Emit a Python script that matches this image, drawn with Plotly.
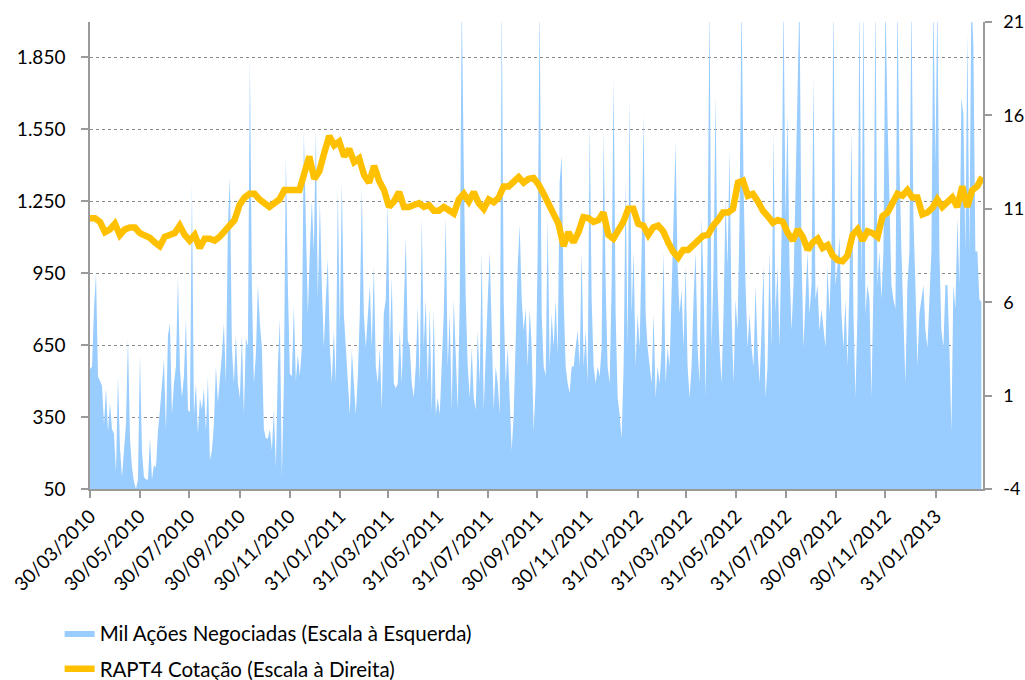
import pandas as pd
import plotly.graph_objects as go

# ---- data ----
volume_start = "2010-03-30"
volume_end = "2013-03-28"
volume = [
    550, 560, 800, 950, 520, 500, 480, 320, 470, 290, 410, 300, 280, 120, 520, 220, 100, 210, 320, 680,
    260, 140, 80, 50, 90, 610, 210, 100, 90, 90, 265, 90, 150, 140, 290, 380, 490, 590, 290, 690,
    740, 360, 490, 560, 935, 550, 430, 520, 760, 380, 370, 1320, 360, 490, 280, 430, 380, 470, 290, 520,
    170, 210, 320, 560, 410, 500, 610, 740, 490, 1150, 1350, 640, 490, 690, 490, 430, 690, 360, 680, 640,
    1840, 900, 490, 610, 900, 740, 640, 300, 260, 260, 300, 210, 380, 140, 560, 760, 100, 490, 1440, 900,
    530, 520, 810, 500, 610, 520, 640, 1540, 1130, 780, 1040, 1250, 1040, 1540, 840, 1250, 900, 640, 840, 1010,
    640, 490, 710, 490, 1300, 710, 1330, 780, 640, 520, 360, 630, 490, 360, 520, 780, 1300, 780, 640, 750,
    900, 640, 980, 560, 490, 640, 380, 780, 840, 1250, 640, 930, 490, 470, 490, 710, 490, 800, 1100, 670,
    640, 490, 430, 560, 810, 490, 1180, 640, 840, 490, 800, 370, 800, 360, 430, 360, 560, 780, 1180, 560,
    780, 380, 840, 560, 380, 840, 2100, 1400, 840, 560, 430, 640, 430, 380, 710, 490, 1040, 380, 640, 840,
    1040, 640, 380, 560, 490, 360, 2100, 830, 490, 640, 430, 210, 360, 640, 980, 1150, 840, 710, 800, 560,
    800, 640, 290, 490, 1040, 2100, 780, 560, 520, 1180, 560, 780, 640, 840, 610, 1330, 1440, 840, 560, 490,
    450, 560, 560, 640, 710, 560, 1040, 560, 710, 490, 1575, 840, 560, 490, 560, 520, 640, 1540, 900, 560,
    490, 900, 1770, 780, 430, 360, 260, 560, 1330, 640, 1680, 780, 1040, 560, 780, 640, 1040, 1610, 780, 640,
    560, 490, 780, 430, 560, 490, 640, 1040, 490, 640, 560, 840, 1180, 1490, 980, 780, 880, 640, 980, 560,
    430, 560, 840, 1040, 640, 490, 1180, 900, 430, 1040, 2100, 640, 980, 1690, 900, 640, 490, 780, 1260, 980,
    1460, 780, 490, 840, 710, 1180, 2100, 1330, 900, 640, 780, 640, 560, 900, 640, 490, 710, 980, 430, 560,
    1040, 640, 1540, 780, 980, 640, 1100, 2100, 1180, 1610, 980, 710, 900, 1260, 1720, 2100, 1040, 640, 840, 1040,
    780, 900, 1770, 840, 900, 710, 800, 710, 640, 980, 780, 1040, 2100, 900, 980, 1100, 780, 640, 840, 560,
    900, 1540, 780, 430, 780, 2100, 900, 2100, 780, 900, 840, 430, 900, 2100, 900, 1040, 840, 1040, 2100, 1610,
    1180, 900, 840, 800, 2100, 1400, 1040, 780, 490, 900, 1040, 2100, 1180, 900, 560, 780, 840, 900, 710, 640,
    840, 1040, 2100, 1400, 2100, 1040, 710, 640, 900, 900, 640, 290, 900, 800, 1180, 900, 1680, 1610, 1040, 1950,
    1040, 2100, 1900, 1040, 1040, 840, 830,
]

price_start = "2010-03-30"
price_end = "2013-03-29"
price = [
    10.5, 10.5, 10.3, 9.75, 9.9, 10.2, 9.6, 9.9, 10.0, 10.0, 9.7, 9.6, 9.45, 9.2, 9.0, 9.5, 9.6, 9.7, 10.1, 9.6,
    9.3, 9.6, 8.9, 9.4, 9.4, 9.3, 9.5, 9.8, 10.0, 10.4, 11.2, 11.6, 11.8, 11.8, 11.5, 11.3, 11.1, 11.3, 11.5, 12.0,
    12.0, 12.0, 12.0, 12.9, 13.8, 12.6, 13.0, 14.0, 14.9, 14.4, 14.6, 13.8, 14.2, 13.5, 13.7, 12.8, 12.4, 13.3, 12.5, 12.0,
    11.1, 11.4, 11.9, 11.1, 11.1, 11.2, 11.3, 11.1, 11.2, 10.9, 10.9, 11.1, 10.9, 10.75, 11.5, 11.8, 11.4, 11.9, 11.3, 11.0,
    11.5, 11.35, 11.6, 12.2, 12.2, 12.4, 12.7, 12.4, 12.6, 12.65, 12.3, 11.8, 11.3, 10.8, 10.2, 9.0, 9.75, 9.2, 9.75, 10.55,
    10.5, 10.3, 10.4, 10.8, 9.6, 9.4, 9.8, 10.3, 11.0, 11.0, 10.2, 10.1, 9.6, 10.0, 10.1, 9.8, 9.2, 8.7, 8.4, 8.8,
    8.8, 9.06, 9.3, 9.55, 9.6, 10.1, 10.4, 10.8, 10.8, 11.0, 12.4, 12.5, 11.7, 11.8, 11.4, 10.9, 10.6, 10.25, 10.4, 10.3,
    9.7, 9.3, 9.9, 9.5, 8.8, 9.2, 9.4, 8.9, 9.06, 8.5, 8.25, 8.2, 8.5, 9.6, 9.9, 9.3, 9.8, 9.7, 9.5, 10.6,
    10.8, 11.4, 11.8, 11.7, 12.0, 11.6, 11.6, 10.7, 10.8, 11.05, 11.5, 11.1, 11.4, 11.6, 11.1, 12.2, 11.1, 12.0, 12.2, 12.7,
]

x_range = ["2010-03-30", "2013-03-30"]
tick_dates = ["2010-03-30", "2010-05-30", "2010-07-30", "2010-09-30", "2010-11-30", "2011-01-31",
              "2011-03-31", "2011-05-31", "2011-07-31", "2011-09-30", "2011-11-30", "2012-01-31",
              "2012-03-31", "2012-05-31", "2012-07-31", "2012-09-30", "2012-11-30", "2013-01-31"]
tick_labels = ["30/03/2010", "30/05/2010", "30/07/2010", "30/09/2010", "30/11/2010", "31/01/2011",
               "31/03/2011", "31/05/2011", "31/07/2011", "30/09/2011", "30/11/2011", "31/01/2012",
               "31/03/2012", "31/05/2012", "31/07/2012", "30/09/2012", "30/11/2012", "31/01/2013"]
left_ticks = [50, 350, 650, 950, 1250, 1550, 1850]
left_labels = ["50", "350", "650", "950", "1.250", "1.550", "1.850"]
right_ticks = [-4, 1, 6, 11, 16, 21]
right_labels = ["-4", "1", "6", "11", "16", "21"]

vol_dates = pd.date_range(volume_start, volume_end, periods=len(volume))
price_dates = pd.date_range(price_start, price_end, periods=len(price))

FONT = "Lato, 'Open Sans', sans-serif"
AXIS_GREY = "#9a9a9a"

fig = go.Figure()
fig.add_trace(go.Scatter(
    x=vol_dates, y=volume, name="Mil Ações Negociadas (Escala à Esquerda)",
    mode="lines", line=dict(width=0, color="#99CCFF"),
    fill="tozeroy", fillcolor="#99CCFF", legendgroup="a", yaxis="y",
))
fig.add_trace(go.Scatter(
    x=price_dates, y=price, name="RAPT4 Cotação (Escala à Direita)",
    mode="lines", line=dict(width=6.5, color="#FFC000"), legendgroup="b", yaxis="y2",
))

fig.update_layout(
    width=1025, height=680,
    margin=dict(l=90, r=42, t=22, b=191, autoexpand=False),
    paper_bgcolor="white", plot_bgcolor="white",
    font=dict(family=FONT, size=19, color="#000000"),
    showlegend=True,
    legend=dict(
        x=-0.034, xanchor="left", y=-0.266, yanchor="top",
        orientation="v", font=dict(size=20.5, color="#000000"),
        tracegroupgap=6, traceorder="grouped",
        bgcolor="rgba(0,0,0,0)",
    ),
    xaxis=dict(
        type="date", range=x_range, tickvals=tick_dates, ticktext=tick_labels,
        tickangle=-45, ticks="outside", ticklen=7, tickcolor=AXIS_GREY, tickwidth=1.5,
        showline=True, linecolor=AXIS_GREY, linewidth=1.5, automargin=False,
        showgrid=False, zeroline=False, tickfont=dict(size=19),
    ),
    yaxis=dict(
        range=[50, 1996], tickvals=left_ticks, ticktext=left_labels,
        ticks="outside", ticklen=7, tickcolor=AXIS_GREY, tickwidth=1.5,
        showline=True, linecolor=AXIS_GREY, linewidth=1.5, automargin=False,
        showgrid=True, gridcolor="#888888", gridwidth=1, griddash="dot",
        zeroline=False, ticklabelstandoff=12, tickfont=dict(size=19),
    ),
    yaxis2=dict(
        range=[-4, 21], tickvals=right_ticks, ticktext=right_labels,
        overlaying="y", side="right",
        ticks="outside", ticklen=7, tickcolor=AXIS_GREY, tickwidth=1.5,
        showline=True, linecolor=AXIS_GREY, linewidth=1.5, automargin=False,
        showgrid=False, zeroline=False, ticklabelstandoff=8, tickfont=dict(size=18),
    ),
)

fig.write_html(
    "out.html",
    config={"displayModeBar": False},
    post_script="document.body.style.margin='0';document.body.style.overflow='hidden';",
)
